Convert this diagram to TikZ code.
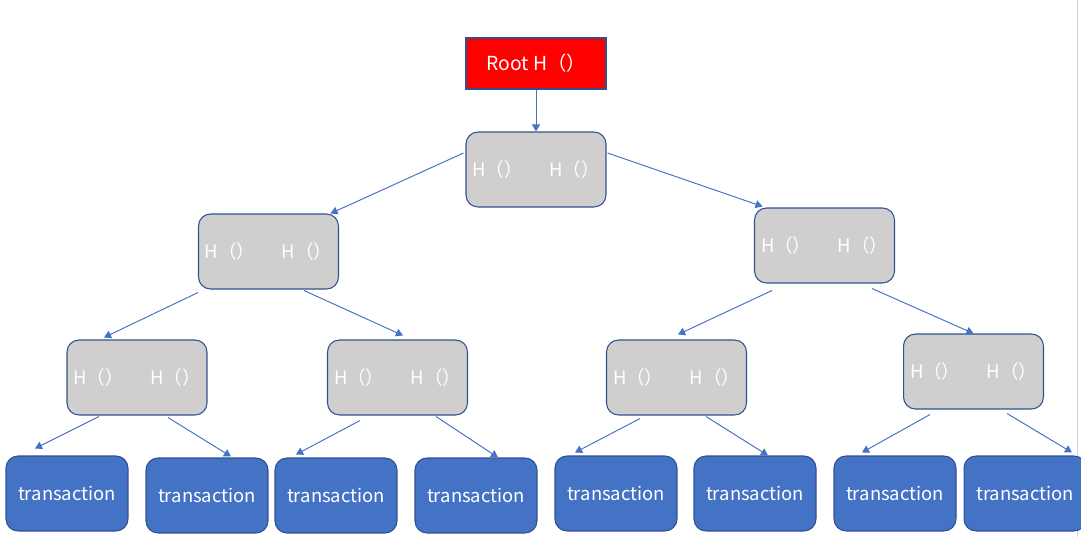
\documentclass[tikz,border=0pt]{standalone}
\usepackage{fontspec}
\setmainfont{Noto Sans CJK SC}
\usetikzlibrary{arrows.meta,calc}

\definecolor{boxline}{HTML}{2F528F}
\definecolor{hashgray}{HTML}{D0CECE}
\definecolor{txblue}{HTML}{4472C4}
\definecolor{rootred}{HTML}{FF0000}
\definecolor{pageline}{HTML}{D4D4D4}

\newcommand{\hashpair}{H（）\hspace{15pt}H（）}

\begin{document}
\begin{tikzpicture}[x = 0.02cm, y = -0.02cm,
    box/.style = {draw = boxline, line width = 0.6pt, text = white, inner sep = 0pt, font = \fontsize{10.5}{12}\selectfont},
    root/.style = {box, fill = rootred, minimum width = 2.8cm, minimum height = 1.02cm, font = \fontsize{11}{13}\selectfont},
    hash/.style = {box, fill = hashgray, rounded corners = 0.24cm, minimum width = 2.8cm, minimum height = 1.5cm},
    tx/.style = {box, fill = txblue, rounded corners = 0.24cm, minimum width = 2.44cm, minimum height = 1.5cm},
    link/.style = {draw = txblue, line width = 0.55pt, ->},
    >={Triangle[length = 4pt, width = 4.5pt]}]
				\useasboundingbox (0,0) rectangle (1081,537);
				\draw[pageline, line width = 0.8pt] (1077.5,0) -- (1077.5,537);
				% root and hash levels
				\node[root] (root) at (536,63.5) {Root H（）};
				\node[hash] (h0) at (536,169.5) {\hashpair};
				\node[hash] (hl) at (268.5,251.5) {\hashpair};
				\node[hash] (hr) at (824.5,245.5) {\hashpair};
				\node[hash] (ha) at (137,377.5) {\hashpair};
				\node[hash] (hb) at (397.5,377.5) {\hashpair};
				\node[hash] (hc) at (676.5,377.5) {\hashpair};
				\node[hash] (hd) at (973.5,371.5) {\hashpair};
				% transactions
				\node[tx] (t1) at (67,493.5) {transaction};
				\node[tx] (t2) at (207,495.5) {transaction};
				\node[tx] (t3) at (336,495.5) {transaction};
				\node[tx] (t4) at (476,495.5) {transaction};
				\node[tx] (t5) at (616,493.5) {transaction};
				\node[tx] (t6) at (755,493.5) {transaction};
				\node[tx] (t7) at (895,493.5) {transaction};
				\node[tx] (t8) at (1025,493.5) {transaction};
				% links
				\draw[link] (root.south) -- (h0.north);
				\draw[link] ($(h0.west)+(-2,-16.5)$) -- ($(hl.north)+(62,0)$);
				\draw[link] ($(h0.east)+(1,-16.5)$) -- ($(hr.north)+(-62,-1)$);
				\draw[link] ($(hl.south)+(-70.5,3)$) -- ($(ha.north)+(-33,-2)$);
				\draw[link] ($(hl.south)+(35.5,1)$) -- ($(hb.north)+(5.5,-4)$);
				\draw[link] ($(hr.south)+(-52.5,7)$) -- ($(hc.north)+(1.5,-5)$);
				\draw[link] ($(hr.south)+(47.5,5)$) -- (hd.north);
				\draw[link] ($(ha.south)+(-38,1)$) -- ($(t1.north)+(-32,-7)$);
				\draw[link] ($(ha.south)+(31,2)$) -- ($(t2.north)+(24,-1)$);
				\draw[link] ($(hb.south)+(-37.5,5)$) -- ($(t3.north)+(-40,-3)$);
				\draw[link] ($(hb.south)+(38.5,1)$) -- ($(t4.north)+(22,0)$);
				\draw[link] ($(hc.south)+(-36.5,3)$) -- ($(t5.north)+(-41,-3)$);
				\draw[link] ($(hc.south)+(29.5,1)$) -- ($(t6.north)+(13,0)$);
				\draw[link] ($(hd.south)+(-43.5,5)$) -- ($(t7.north)+(-33,-3)$);
				\draw[link] ($(hd.south)+(33.5,4)$) -- ($(t8.north)+(47,-3)$);
			\end{tikzpicture}
\end{document}
